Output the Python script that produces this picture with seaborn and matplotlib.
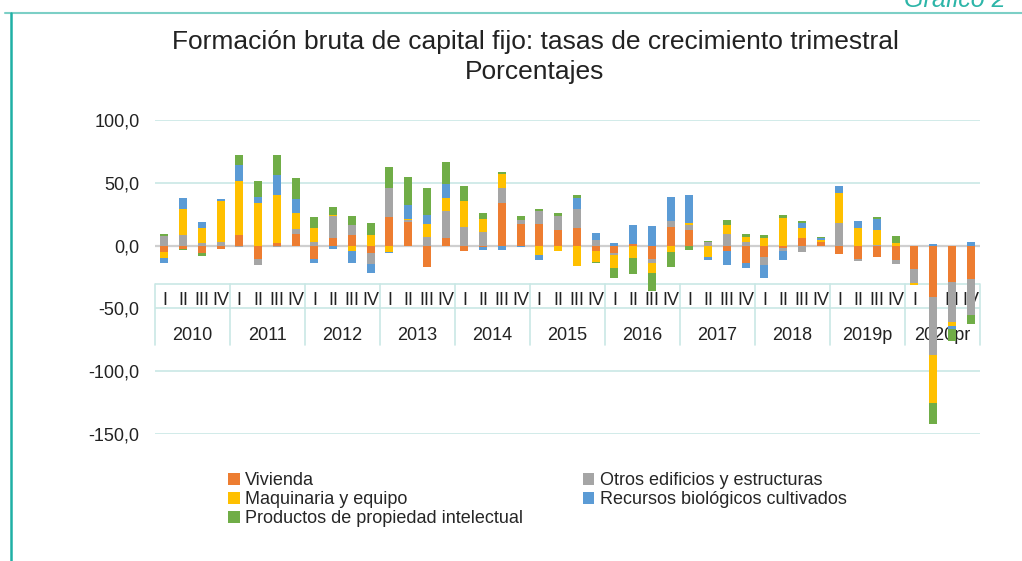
import numpy as np
import pandas as pd
import seaborn as sns
import matplotlib.pyplot as plt
from matplotlib.patches import Patch
from matplotlib.lines import Line2D

# --- Data (tasas de crecimiento, contribuciones por componente) ---
years = ['2010', '2011', '2012', '2013', '2014', '2015', '2016', '2017', '2018', '2019p', '2020pr']
quarters = ['I', 'II', 'III', 'IV']

vivienda = [-5.4, -2.4, -6.2, -3.0, 8.6, -10.8, 1.9, 9.4, -11.0, 6.2, 8.1, -6.2,
            23.1, 18.5, -17.2, 6.2, -4.0, -1.3, 33.9, 16.9, 16.9, 12.6, 14.0, -4.3,
            -6.2, 1.6, -10.8, 14.8, 12.6, 0.0, -4.6, -14.0, -9.4, -1.6, 5.9, 3.2,
            -6.5, -10.5, -8.9, -11.3, -18.5, -40.9, -29.3, -26.9]
otros = [7.3, 8.1, 1.9, 3.2, -1.3, -4.8, -1.3, 3.5, 3.0, 17.2, 8.6, -8.3,
         22.6, 1.9, 6.7, 21.2, 14.8, 11.0, 11.8, 3.2, 10.8, 10.8, 15.3, 4.6,
         -1.3, 0.0, -3.0, 4.8, 3.8, 2.7, 8.9, 3.2, -6.2, -3.0, -5.1, 0.0,
         17.7, -1.6, 0.8, -3.5, -11.0, -46.2, -31.7, -28.2]
maquinaria = [-4.6, 20.7, 12.1, 32.0, 43.0, 33.9, 38.4, 12.9, 11.0, 1.1, -4.3, 8.6,
              -4.8, 1.1, 10.2, 10.2, 21.0, 10.2, 11.3, 0.0, -7.8, -4.3, -15.9, -9.1,
              -10.5, -9.9, -8.1, -4.8, 1.9, -8.9, 7.8, 3.5, 6.2, 22.3, 8.1, 1.3,
              24.5, 13.7, 11.6, 1.9, -2.2, -38.4, -2.7, 0.0]
recursos = [-3.5, 8.9, 4.6, 1.6, 12.9, 4.8, 16.1, 11.3, -3.2, -2.7, -9.9, -7.0,
            -1.1, 10.5, 7.3, 11.3, 0.0, -1.9, -3.2, -1.3, -3.8, 0.0, 8.3, 5.1,
            2.4, 15.1, 15.6, 19.4, 22.3, -2.7, -10.8, -3.5, -10.5, -7.0, 4.0, 1.6,
            5.4, 5.9, 8.9, 0.0, 0.0, 1.6, -3.0, 2.7]
productos = [2.0, -1.3, -2.2, 0.0, 7.8, 12.4, 15.9, 16.9, 8.9, 6.5, 7.0, 9.4,
             17.2, 22.3, 21.8, 18.0, 11.8, 5.1, 1.9, 3.5, 1.6, 2.4, 2.7, -0.8,
             -7.8, -12.9, -14.6, -12.6, -3.5, 1.1, 4.0, 2.2, 2.4, 2.2, 1.3, 1.1,
             0.0, 0.0, 1.1, 5.6, 0.0, -16.9, -9.0, -7.5]

series_names = ['Vivienda', 'Otros edificios y estructuras', 'Maquinaria y equipo',
                'Recursos biológicos cultivados', 'Productos de propiedad intelectual']
colors = ['#ED7D31', '#A5A5A5', '#FFC000', '#5B9BD5', '#70AD47']

# --- Build table ---
periods = [f"{y}-{q}" for y in years for q in quarters]
df = pd.DataFrame({'periodo': periods, series_names[0]: vivienda, series_names[1]: otros,
                   series_names[2]: maquinaria, series_names[3]: recursos,
                   series_names[4]: productos})

vals = df[series_names].to_numpy()
pos_cum = np.cumsum(np.clip(vals, 0, None), axis=1)
neg_cum = np.cumsum(np.clip(vals, None, 0), axis=1)

# --- Figure ---
sns.set_style('white')
plt.rcParams['font.family'] = ['Liberation Sans', 'DejaVu Sans']

fig = plt.figure(figsize=(10.22, 5.61), dpi=100)
ax = fig.add_axes([155 / 1022, 1 - 434 / 561, 825 / 1022, 314 / 561])

grid_col = '#C9E8E5'
for yv in [-150, -100, -50, 50, 100]:
    ax.axhline(yv, color=grid_col, lw=1.2, zorder=0)
ax.axhline(0, color='#CFCFCF', lw=1.6, zorder=0.6)

# stacked bars: draw cumulative totals from the outermost layer inward
for k in range(len(series_names) - 1, -1, -1):
    for cum in (pos_cum, neg_cum):
        sns.barplot(x=df['periodo'], y=cum[:, k], color=colors[k], saturation=1,
                    width=0.42, errorbar=None, linewidth=0, ax=ax, zorder=2)

ax.set_xlim(-0.5, len(periods) - 0.5)
ax.set_ylim(-150, 100)
ax.set_yticks([-150, -100, -50, 0, 50, 100])
ax.set_yticklabels([f"{v:.1f}".replace('.', ',') for v in [-150, -100, -50, 0, 50, 100]])
ax.tick_params(axis='y', length=0, pad=11, labelsize=13, labelcolor='#222222')
ax.set_xticks([])
ax.set_xlabel('')
ax.set_ylabel('')
for s in ax.spines.values():
    s.set_visible(False)

# multi-level category axis
box_top, box_bot = -30.2, -79.4
ax.plot([-0.5, len(periods) - 0.5], [box_top, box_top], color=grid_col, lw=1.2, zorder=0.5)
for i in range(len(years) + 1):
    xs = -0.5 + 4 * i
    ax.plot([xs, xs], [box_top, box_bot], color=grid_col, lw=1.2, zorder=0.5, clip_on=False)
for i, p in enumerate(periods):
    ax.text(i, -43.5, p.split('-')[1], ha='center', va='center', fontsize=13,
            color='#222222', zorder=0.7)
for i, y in enumerate(years):
    ax.text(4 * i + 1.5, -71.5, y, ha='center', va='center', fontsize=13,
            color='#222222', zorder=0.7, clip_on=False)

# --- Titles / frame ---
fig.text(535 / 1022, 1 - 42 / 561, 'Formación bruta de capital fijo: tasas de crecimiento trimestral',
         ha='center', va='center', fontsize=19, color='#222222')
fig.text(535 / 1022, 1 - 72 / 561, 'Porcentajes', ha='center', va='center', fontsize=19,
         color='#222222')
fig.text(1005 / 1022, 1 - 7 / 561, 'Gráfico 2', ha='right', va='baseline', fontsize=18,
         style='italic', color='#2DB5A8')
fig.add_artist(Line2D([5 / 1022, 1], [1 - 13 / 561, 1 - 13 / 561], color='#7CCFC6', lw=1.5))
fig.add_artist(Line2D([11 / 1022, 11 / 1022], [0, 1 - 13 / 561], color='#1FB0A5', lw=1.8))

# --- Legend ---
order = [0, 2, 4, 1, 3]
handles = [Patch(facecolor=colors[i], edgecolor='none') for i in order]
labels = [series_names[i] for i in order]
fig.legend(handles, labels, loc='upper left', bbox_to_anchor=(228 / 1022, 1 - 472 / 561),
           ncol=2, frameon=False, fontsize=13, handlelength=0.65, handleheight=0.65,
           handletextpad=0.3, labelspacing=0.12, columnspacing=3.3, borderpad=0,
           borderaxespad=0)

fig.savefig('out.png', dpi=100)
